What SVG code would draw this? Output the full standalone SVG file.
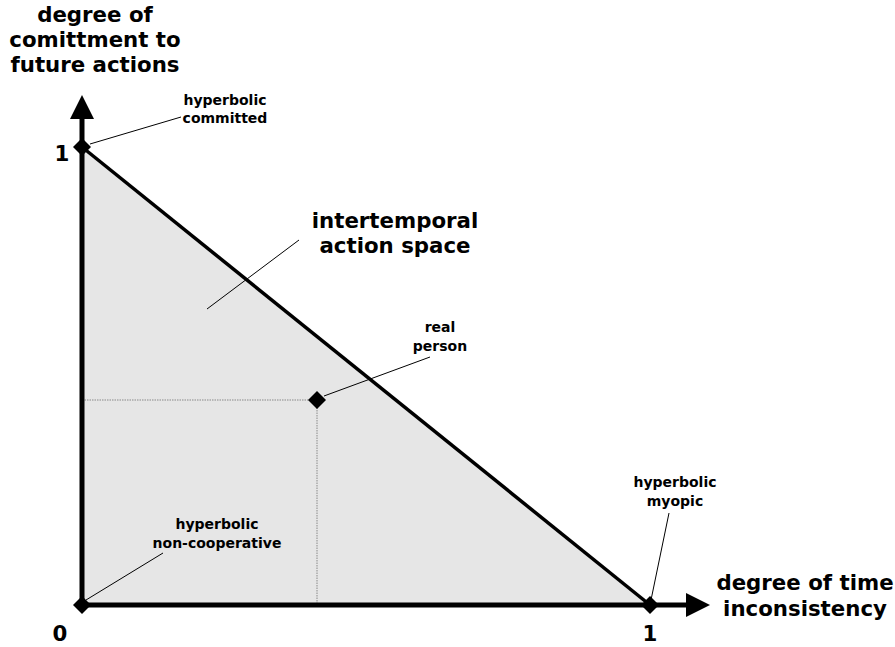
<svg xmlns="http://www.w3.org/2000/svg" width="895" height="647" viewBox="0 0 895 647">
<style>
text{font-family:"DejaVu Sans","Liberation Sans",sans-serif;font-weight:bold;fill:#000;text-anchor:middle}
.big{font-size:21.3px}
.small{font-size:14px}
.lead{stroke:#000;stroke-width:1;fill:none}
.dot{stroke:#888;stroke-width:1;stroke-dasharray:1.5 1;fill:none}
.axis{stroke:#000;stroke-width:5;fill:none}
</style>
<defs>
<path id="dia" d="M0,-9 L9,0 L0,9 L-9,0 Z" fill="#000"/>
</defs>
<rect width="895" height="647" fill="#fff"/>
<g id="region">
<polygon points="82,147 650,605 82,605" fill="#e6e6e6"/>
<line x1="82" y1="147" x2="650" y2="605" stroke="#000" stroke-width="3.5"/>
</g>
<g id="connectors">
<line class="dot" x1="82" y1="400" x2="317" y2="400"/>
<line class="dot" x1="317" y1="400" x2="317" y2="605"/>
<line class="lead" x1="90" y1="144" x2="181" y2="117"/>
<line class="lead" x1="207" y1="309" x2="299" y2="240"/>
<line class="lead" x1="324" y1="396" x2="430" y2="357"/>
<line class="lead" x1="86" y1="600" x2="163" y2="553"/>
<line class="lead" x1="651" y1="600" x2="669" y2="513"/>
</g>
<g id="axes">
<line class="axis" x1="82" y1="605" x2="82" y2="115"/>
<polygon points="82,95 94,119 70,119" fill="#000"/>
<line class="axis" x1="82" y1="605" x2="688" y2="605"/>
<polygon points="710,605 686,593 686,617" fill="#000"/>
</g>
<g id="y-label"><text class="big" x="95" y="22">degree of</text><text class="big" x="95" y="47">comittment to</text><text class="big" x="95" y="72">future actions</text></g>
<g id="x-label"><text class="big" x="805" y="590">degree of time</text><text class="big" x="805" y="616">inconsistency</text></g>
<g id="ticks"><text class="big" x="62" y="161">1</text><text class="big" x="60" y="641">0</text><text class="big" x="650" y="641">1</text></g>
<g id="committed"><use href="#dia" x="82" y="147"/><text class="small" x="225" y="105">hyperbolic</text><text class="small" x="225" y="123">committed</text></g>
<g id="space"><text class="big" x="395" y="228">intertemporal</text><text class="big" x="395" y="253">action space</text></g>
<g id="real"><use href="#dia" x="317" y="400"/><text class="small" x="440" y="332">real</text><text class="small" x="440" y="351">person</text></g>
<g id="noncoop"><use href="#dia" x="82" y="605"/><text class="small" x="217" y="529">hyperbolic</text><text class="small" x="217" y="548">non-cooperative</text></g>
<g id="myopic"><use href="#dia" x="650" y="605"/><text class="small" x="675" y="487">hyperbolic</text><text class="small" x="675" y="506">myopic</text></g>
</svg>
